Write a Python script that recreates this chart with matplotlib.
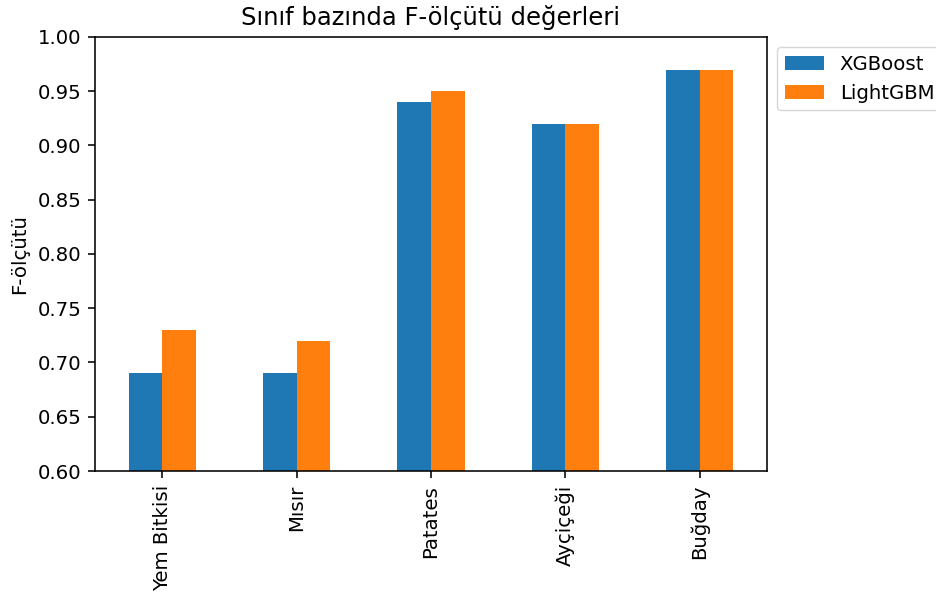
import numpy as np
import matplotlib.pyplot as plt

classes = ['Yem Bitkisi', 'Mısır', 'Patates', 'Ayçiçeği', 'Buğday']
xgboost = [0.69, 0.69, 0.94, 0.92, 0.97]
lightgbm = [0.73, 0.72, 0.95, 0.92, 0.97]

# original looks like default rc rendered at a larger scale
s = 1.42
plt.rcParams.update({
    'font.size': 10 * s,
    'axes.linewidth': 0.8 * s,
    'xtick.major.width': 0.8 * s,
    'ytick.major.width': 0.8 * s,
    'xtick.major.size': 3.5 * s,
    'ytick.major.size': 3.5 * s,
    'xtick.major.pad': 3.5 * s,
    'ytick.major.pad': 3.5 * s,
    'axes.titlepad': 6 * s,
    'axes.labelpad': 4 * s,
})

fig = plt.figure(figsize=(9.37, 6.02), dpi=100)
ax = fig.add_axes([0.1014, 0.2176, 0.717, 0.721])

x = np.arange(len(classes))
w = 0.25
ax.bar(x - w / 2, xgboost, w, color='#1f77b4', label='XGBoost')
ax.bar(x + w / 2, lightgbm, w, color='#ff7f0e', label='LightGBM')

ax.set_xlim(-0.5, len(classes) - 0.5)
ax.set_ylim(0.6, 1.0)
ax.set_xticks(x)
ax.set_xticklabels(classes, rotation=90)
ax.set_yticks(np.arange(0.6, 1.001, 0.05))
ax.set_yticklabels(['%.2f' % v for v in np.arange(0.6, 1.001, 0.05)])
ax.set_ylabel('F-ölçütü')
ax.set_title('Sınıf bazında F-ölçütü değerleri', fontsize=17.5)
ax.legend(loc='upper left', bbox_to_anchor=(1.0, 1.0))

fig.savefig('out.png', dpi=100)
